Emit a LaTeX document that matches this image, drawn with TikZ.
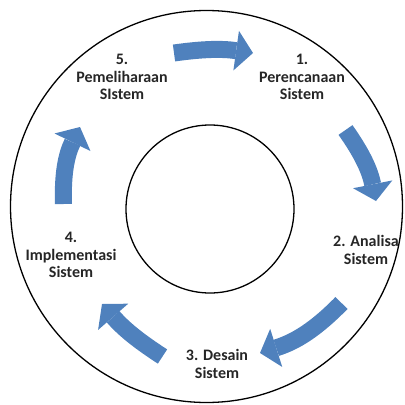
\documentclass[tikz,border=0pt]{standalone}
\usepackage{fontspec}
\setmainfont{Carlito}
\usepackage{xcolor}
\usepackage{tikz}
\usetikzlibrary{arrows.meta}
\definecolor{flowblue}{RGB}{79,129,189}

\begin{document}
\begin{tikzpicture}[x=1pt,y=1pt]
  \tikzstyle{lbl}=[align=center,font=\bfseries\fontsize{16}{17.5}\selectfont,text=black!85]
  \tikzstyle{flow}=[draw=flowblue,line width=17pt,-{Triangle[length=17pt,width=40pt,line width=0pt]}]
\useasboundingbox (0,0) rectangle (405,-405);
\draw[line width=1.3pt] (206.5,-206.5) circle (196pt);
\draw[line width=1.3pt] (210,-209) circle (84pt);
% stages
\node[lbl] (plan) at (302,-77) {1.\\Perencanaan\\Sistem};
\node[lbl] (anal) at (366,-250) {2. Analisa\\Sistem};
\node[lbl] (desain) at (217,-364) {3. Desain\\Sistem};
\node[lbl] (impl) at (71,-255) {4.\\Implementasi\\Sistem};
\node[lbl] (pemel) at (122,-77) {5.\\Pemeliharaan\\SIstem};
% arrow ends
\coordinate (s1) at (174,-53);     \coordinate (e1) at (253,-53);
\coordinate (s2) at (345.5,-130);  \coordinate (e2) at (376,-201);
\coordinate (s3) at (341.5,-303);  \coordinate (e3) at (260,-353);
\coordinate (s4) at (162.5,-356.5);\coordinate (e4) at (102,-304);
\coordinate (s5) at (63.5,-204);   \coordinate (e5) at (80,-127);
\foreach \i/\b in {1/8,2/12,3/14,4/8,5/14}{
    \draw[flow] (s\i) to[bend left=\b] (e\i);
  }
\end{tikzpicture}
\end{document}
